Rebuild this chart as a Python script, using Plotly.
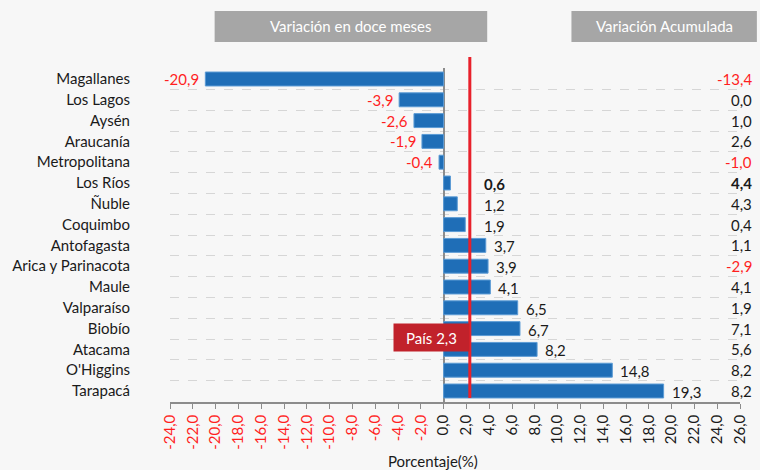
import plotly.graph_objects as go

regions = ["Magallanes", "Los Lagos", "Aysén", "Araucanía", "Metropolitana", "Los Ríos",
           "Ñuble", "Coquimbo", "Antofagasta", "Arica y Parinacota", "Maule", "Valparaíso",
           "Biobío", "Atacama", "O'Higgins", "Tarapacá"]
var_12m = [-20.9, -3.9, -2.6, -1.9, -0.4, 0.6, 1.2, 1.9, 3.7, 3.9, 4.1, 6.5, 6.7, 8.2, 14.8, 19.3]
var_acum = [-13.4, 0.0, 1.0, 2.6, -1.0, 4.4, 4.3, 0.4, 1.1, -2.9, 4.1, 1.9, 7.1, 5.6, 8.2, 8.2]
bold_region = "Los Ríos"
pais_value = 2.3
tick_values = [-24, -22, -20, -18, -16, -14, -12, -10, -8, -6, -4, -2, 0, 2, 4, 6, 8, 10,
               12, 14, 16, 18, 20, 22, 24, 26]
header_left = "Variación en doce meses"
header_right = "Variación Acumulada"
x_title = "Porcentaje(%)"

RED = "#FF1F1F"
BLUE = "#1F6EB7"
FONT = "Lato"
TXT = "#1a1a1a"


def fmt(v):
    return f"{v:.1f}".replace(".", ",")


tick_text = [f'<span style="color:{RED}">{fmt(v)}</span>' if v < 0 else fmt(v) for v in tick_values]

fig = go.Figure()
fig.add_trace(go.Bar(
    y=regions, x=var_12m, orientation="h",
    marker=dict(color=BLUE, line=dict(color="#5B9BD5", width=1)),
    hoverinfo="skip",
))

annotations = []
for r, v, a in zip(regions, var_12m, var_acum):
    bold = r == bold_region
    t = fmt(v)
    if bold:
        t = f"<b>{t}</b>"
    if v < 0:
        annotations.append(dict(x=v, y=r, xref="x", yref="y", text=t, showarrow=False,
                                xanchor="right", xshift=-4, yshift=0,
                                font=dict(family=FONT, size=15, color=RED)))
    else:
        annotations.append(dict(x=max(v, 2.85), y=r, xref="x", yref="y", text=t, showarrow=False,
                                xanchor="left", xshift=6, yshift=-1,
                                font=dict(family=FONT, size=15, color=TXT)))
    ta = fmt(a)
    if bold:
        ta = f"<b>{ta}</b>"
    annotations.append(dict(x=1.0243, y=r, xref="paper", yref="y", text=ta, showarrow=False,
                            xanchor="right", yshift=0,
                            font=dict(family=FONT, size=15, color=RED if a < 0 else TXT)))

# headers
annotations.append(dict(x=0.3174, y=1.1243, xref="paper", yref="paper", text=header_left,
                        showarrow=False, xanchor="center", yanchor="middle",
                        font=dict(family=FONT, size=15, color="white")))
annotations.append(dict(x=0.8670, y=1.1243, xref="paper", yref="paper", text=header_right,
                        showarrow=False, xanchor="center", yanchor="middle",
                        font=dict(family=FONT, size=15, color="white")))
# Pais box
annotations.append(dict(x=0.4583, y=0.193, xref="paper", yref="paper",
                        text=f"País {fmt(pais_value)}", showarrow=False,
                        xanchor="center", yanchor="middle",
                        bgcolor="#C1222B", width=75, height=27, borderpad=0,
                        font=dict(family=FONT, size=15, color="white")))
# x title
annotations.append(dict(x=0.461, y=-0.178, xref="paper", yref="paper", text=x_title,
                        showarrow=False, xanchor="center", yanchor="middle",
                        font=dict(family=FONT, size=15, color=TXT)))

shapes = [
    dict(type="rect", xref="paper", yref="paper", x0=0.0783, x1=0.5565, y0=1.0778, y1=1.1707,
         fillcolor="#A6A6A6", line=dict(width=0), layer="below"),
    dict(type="rect", xref="paper", yref="paper", x0=0.7043, x1=1.0296, y0=1.0778, y1=1.1707,
         fillcolor="#A6A6A6", line=dict(width=0), layer="below"),
    dict(type="line", xref="x", yref="paper", x0=pais_value, x1=pais_value, y0=0.012, y1=1.033,
         line=dict(color="#E8212B", width=3), layer="above"),
]

fig.update_layout(
    width=760, height=470,
    margin=dict(l=168, r=17, t=68, b=68),
    paper_bgcolor="#F7F7F7", plot_bgcolor="#F7F7F7",
    font=dict(family=FONT, size=15, color=TXT),
    showlegend=False, bargap=0.33,
    annotations=annotations, shapes=shapes,
    xaxis=dict(range=[-24, 26], tickvals=tick_values, ticktext=tick_text, tickangle=-90,
               showgrid=False, zeroline=True, zerolinecolor="#8C8C8C", zerolinewidth=1.5,
               showline=True, linecolor="#8C8C8C", linewidth=1.5, ticks="outside", ticklen=5,
               tickcolor="#8C8C8C", tickfont=dict(family=FONT, size=15, color=TXT), fixedrange=True),
    yaxis=dict(type="category", autorange="reversed", tickson="boundaries", ticks="",
               showgrid=True, gridcolor="#D6D6D6", griddash="dash", gridwidth=1,
               ticklabelstandoff=39, tickfont=dict(family=FONT, size=15, color=TXT),
               showline=False, zeroline=False, fixedrange=True),
)

fig.write_html(
    "out.html",
    config={"displayModeBar": False},
    post_script="document.body.style.margin='0';document.body.style.background='#F7F7F7';",
)
